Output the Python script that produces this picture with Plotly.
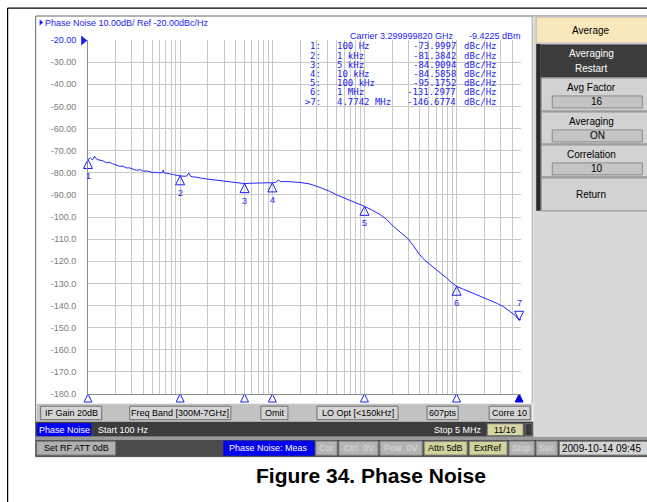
import numpy as np
import plotly.graph_objects as go

# Averaged phase-noise trace: offset frequency (Hz) and level (dBc/Hz)
offset_hz = [100, 106, 112, 118, 125, 134, 145, 158, 172, 185, 200, 221, 240, 260, 283,
             310, 335, 370, 400, 431, 470, 510, 553, 600, 645, 655, 668, 720, 770, 850,
             920, 1000, 1100, 1180, 1240, 1300, 1380, 1500, 1770, 2000, 2490, 3000, 3480,
             4000, 5000, 6000, 7000, 8000, 9000, 10000, 11000, 11600, 12300, 15000, 20000,
             25000, 30000, 36000, 42000, 50000, 64000, 80000, 100000, 120000, 148000,
             175000, 205000, 250000, 297000, 340000, 395000, 450000, 512000, 600000,
             690000, 780000, 880000, 1000000, 1180000, 1390000, 1650000, 1940000,
             2300000, 2770000, 3250000, 3800000, 4300000, 4774200, 5000000]
noise_dbc = [-74.0, -73.3, -74.2, -72.6, -74.0, -74.4, -74.6, -75.5, -75.3, -75.9, -76.5,
             -77.1, -77.0, -77.8, -77.8, -78.5, -78.9, -78.6, -79.3, -79.2, -79.6, -79.9,
             -79.8, -80.1, -79.9, -78.8, -80.0, -80.4, -80.5, -80.9, -81.0, -81.38, -81.6,
             -81.5, -80.1, -81.6, -81.9, -82.0, -82.6, -82.9, -83.4, -83.8, -84.1, -84.4,
             -84.91, -84.7, -84.8, -84.6, -84.5, -84.59, -84.3, -83.2, -84.0, -84.0, -84.4,
             -85.0, -86.0, -87.2, -88.4, -90.0, -91.8, -93.4, -95.18, -96.8, -98.9, -101.2,
             -104.1, -107.2, -109.8, -113.0, -116.9, -119.5, -121.4, -123.6, -125.5,
             -127.6, -129.6, -131.30, -132.6, -133.8, -135.0, -136.3, -137.6, -139.1,
             -140.6, -142.5, -144.4, -146.68, -146.3]

# Marker table
marker_id = ["1", "2", "3", "4", "5", "6", "7"]
marker_hz = [100, 1e3, 5e3, 10e3, 100e3, 1e6, 4.7742e6]
marker_freq_text = ["100 Hz", "1 kHz", "5 kHz", "10 kHz", "100 kHz", "1 MHz", "4.7742 MHz"]
marker_dbc = [-73.9997, -81.3842, -84.9094, -84.5858, -95.1752, -131.2977, -146.6774]
active_marker = 6

# Vertical scale: 10 dB/div from -20 dBc/Hz reference
y_ticks = list(range(-20, -190, -10))
y_ticktext = [f"{v:.2f}" if v > -100 else f"{v:.1f}" for v in y_ticks]

BLUE = "#1c1cf0"
GRID = "#c8c8c8"
UI = "Liberation Sans"
MONO = "DejaVu Sans Mono"

# pixel -> paper conversion (plot area 88.3..520.8 x 40..394.3 px)
PX0, PX1 = 88.3, 520.8
PY0, PY1 = 40.0, 394.3


def px(x):
    return (x - PX0) / (PX1 - PX0)


def py(y):
    return (PY1 - y) / (PY1 - PY0)


shapes = []
annotations = []


def rect(x0, y0, x1, y1, fill=None, line=None, lw=1):
    shapes.append(dict(type="rect", xref="paper", yref="paper",
                       x0=px(x0), x1=px(x1), y0=py(y1), y1=py(y0),
                       fillcolor=fill if fill else "rgba(0,0,0,0)",
                       line=dict(color=line if line else "rgba(0,0,0,0)",
                                 width=lw if line else 0),
                       layer="above"))


def hline(x0, x1, y, color, lw=1):
    shapes.append(dict(type="line", xref="paper", yref="paper",
                       x0=px(x0), x1=px(x1), y0=py(y), y1=py(y),
                       line=dict(color=color, width=lw), layer="above"))


def vline(x, y0, y1, color, lw=1):
    shapes.append(dict(type="line", xref="paper", yref="paper",
                       x0=px(x), x1=px(x), y0=py(y0), y1=py(y1),
                       line=dict(color=color, width=lw), layer="above"))


def text(x, y, s, size=9, color="black", anchor="left", family=UI, bold=False):
    if bold:
        s = f"<b>{s}</b>"
    annotations.append(dict(xref="paper", yref="paper", x=px(x), y=py(y), text=s,
                            xanchor=anchor, yanchor="middle", showarrow=False,
                            borderpad=0,
                            font=dict(size=size, color=color, family=family)))


def button(x0, y0, x1, y1, s, fill, tcolor="black", border="#6e6e6e", size=9):
    rect(x0, y0, x1, y1, fill=fill, line=border)
    if s:
        text((x0 + x1) / 2, (y0 + y1) / 2, s, size=size, color=tcolor, anchor="center")


# document border
hline(8, 660, 8, "black", 1.2)
vline(8, 8, 510, "black", 1.2)

# instrument screen frame
rect(36, 16, 660, 457, line="#6a6a6a")
vline(532, 17, 404, "#a0a0a0")

# right softkey panel
rect(533, 16.5, 660, 437, fill="#d8d8d8")
rect(536, 17, 660, 43, fill="#f8e8bc", line="#b8b8b8")
text(591, 30, "Average", size=10, anchor="center")
rect(536, 44, 540.5, 211, fill="#2a2a2a")
rect(541, 45, 660, 77, fill="#3d3d3d", line="#2a2a2a")
text(591, 54, "Averaging", size=10, color="white", anchor="center")
text(591, 69, "Restart", size=10, color="white", anchor="center")
keys = [(78, 111, "Avg Factor", "16"), (112, 144, "Averaging", "ON"),
        (145, 177, "Correlation", "10")]
for (k0, k1, name, val) in keys:
    rect(541, k0, 660, k1, fill="#d2d2d2", line="#8a8a8a")
    text(591, k0 + 10, name, size=10, anchor="center")
    rect(552, k0 + 18, 642, k0 + 30, fill="#c4c4c4", line="#8a8a8a")
    text(597, k0 + 24, val, size=10, anchor="center")
rect(541, 178, 660, 211, fill="#d2d2d2", line="#8a8a8a")
text(591, 195, "Return", size=10, anchor="center")

# soft button row under the graticule
rect(37, 404, 532, 422, fill="#c2c2c2")
button(41, 406.5, 102, 420, "IF Gain 20dB", "#d4d4d4")
button(130, 406.5, 231, 420, "Freq Band [300M-7GHz]", "#d4d4d4")
button(261, 406.5, 288, 420, "Omit", "#d4d4d4")
button(317, 406.5, 398, 420, "LO Opt [<150kHz]", "#d4d4d4")
button(427, 406.5, 458, 420, "607pts", "#d4d4d4")
button(489, 406.5, 530, 420, "Corre 10", "#d4d4d4")

# measurement status bar
rect(36, 422, 533, 437, fill="#3c3c3c")
button(38, 424, 91, 436, "Phase Noise", "#0000f0", tcolor="white", border="#0000f0")
text(97, 430, "Start 100 Hz", size=9, color="white")
text(483, 430, "Stop 5 MHz", size=9, color="white", anchor="right")
button(487, 424, 523, 436, "11/16", "#d6d6a4", border="#6e6e6e")
rect(525, 424, 532, 436, fill="#3a3a3a", line="#707070")

# system status bar
rect(36, 437, 660, 440, fill="#9a9a9a")
rect(36, 440, 660, 457, fill="#4a4a4a")
button(37, 441.5, 116, 455.5, "Set RF ATT 0dB", "#b0b0b0")
button(224, 441.5, 314, 455.5, "Phase Noise: Meas", "#0000f0", tcolor="white",
       border="#0000f0")
button(316, 441.5, 337, 455.5, "Cor", "#b4b4b4", tcolor="#dcdcdc", border="#8a8a8a")
button(339, 441.5, 378, 455.5, "Ctrl  0V", "#b4b4b4", tcolor="#dcdcdc", border="#8a8a8a")
button(380, 441.5, 422, 455.5, "Pow  0V", "#b4b4b4", tcolor="#dcdcdc", border="#8a8a8a")
button(424, 441.5, 467, 455.5, "Attn 5dB", "#d2d29c")
button(469, 441.5, 507, 455.5, "ExtRef", "#d2d29c")
button(509, 441.5, 534, 455.5, "Stop", "#b4b4b4", tcolor="#dcdcdc", border="#8a8a8a")
button(536, 441.5, 557, 455.5, "Svc", "#b4b4b4", tcolor="#dcdcdc", border="#8a8a8a")
button(559, 441.5, 660, 455.5, "", "#d4d4d4")
text(561, 448.5, "2009-10-14 09:45", size=10)

# trace header and reference level indicator
shapes.append(dict(type="path", xref="paper", yref="paper",
                   path=f"M {px(40)} {py(19.5)} L {px(43.5)} {py(22.5)} L {px(40)} {py(25.5)} Z",
                   fillcolor=BLUE, line=dict(width=0), layer="above"))
text(44, 22.5, "Phase Noise 10.00dB/ Ref -20.00dBc/Hz", size=9, color=BLUE)
shapes.append(dict(type="path", xref="paper", yref="paper",
                   path=f"M {px(81.5)} {py(35.5)} L {px(87.5)} {py(40.5)} L {px(81.5)} {py(45.5)} Z",
                   fillcolor=BLUE, line=dict(width=0), layer="above"))

# carrier line and marker table
text(455, 35.5, "Carrier 3.299999820 GHz", size=9, color=BLUE, anchor="right")
text(522, 35.5, "-9.4225 dBm", size=9, color=BLUE, anchor="right")
for i, (mid, ftxt, val) in enumerate(zip(marker_id, marker_freq_text, marker_dbc)):
    ry = 46.5 + i * 9.2
    prefix = ">" if i == active_marker else ""
    text(322, ry, f"{prefix}{mid}:", size=9, color=BLUE, anchor="right", family=MONO)
    text(336, ry, ftxt, size=9, color=BLUE, family=MONO)
    text(457, ry, f"{val:.4f}", size=9, color=BLUE, anchor="right", family=MONO)
    text(463, ry, "dBc/Hz", size=9, color=BLUE, family=MONO)

# figure caption
text(371, 476, "Figure 34. Phase Noise", size=21, color="black", anchor="center", bold=True)

fig = go.Figure()

fig.add_trace(go.Scatter(x=offset_hz, y=noise_dbc, mode="lines",
                         line=dict(color="#2626ff", width=1), showlegend=False,
                         hoverinfo="skip"))

# marker symbols on the trace
up_idx = [i for i in range(len(marker_hz)) if i != active_marker]
fig.add_trace(go.Scatter(x=[marker_hz[i] for i in up_idx], y=[marker_dbc[i] for i in up_idx],
                         mode="markers", showlegend=False, cliponaxis=False,
                         marker=dict(symbol="arrow-up-open", size=9, color=BLUE,
                                     line=dict(color=BLUE, width=1))))
fig.add_trace(go.Scatter(x=[marker_hz[active_marker]], y=[marker_dbc[active_marker]],
                         mode="markers", showlegend=False, cliponaxis=False,
                         marker=dict(symbol="arrow-down-open", size=9, color=BLUE,
                                     line=dict(color=BLUE, width=1))))
for i, (mid, f, v) in enumerate(zip(marker_id, marker_hz, marker_dbc)):
    annotations.append(dict(x=np.log10(f), y=v, xref="x", yref="y", text=mid,
                            showarrow=False, yshift=(17 if i == active_marker else -17),
                            font=dict(size=9, color=BLUE, family=UI)))

# marker position indicators along the bottom edge
fig.add_trace(go.Scatter(x=[marker_hz[i] for i in up_idx], y=[-180] * len(up_idx),
                         mode="markers", showlegend=False, cliponaxis=False,
                         marker=dict(symbol="arrow-up-open", size=8, color=BLUE,
                                     line=dict(color=BLUE, width=1))))
fig.add_trace(go.Scatter(x=[marker_hz[active_marker]], y=[-180],
                         mode="markers", showlegend=False, cliponaxis=False,
                         marker=dict(symbol="arrow-up", size=8, color="#0000f0",
                                     line=dict(color="#0000f0", width=1))))

y_ticktext[0] = f"<span style='color:{BLUE}'>{y_ticktext[0]}</span>"

fig.update_layout(
    width=647, height=502,
    margin=dict(l=PX0, r=647 - PX1, t=PY0, b=502 - PY1, autoexpand=False),
    paper_bgcolor="white", plot_bgcolor="white",
    shapes=shapes, annotations=annotations,
    xaxis=dict(type="log", range=[2, np.log10(5e6)], dtick="D1",
               showticklabels=False, ticks="", showgrid=True, gridcolor=GRID,
               gridwidth=1, showline=True, linecolor="#8c8c8c", linewidth=1,
               zeroline=False),
    yaxis=dict(range=[-180, -20], tickvals=y_ticks, ticktext=y_ticktext,
               ticks="", ticklabelstandoff=9, showgrid=True, gridcolor=GRID,
               gridwidth=1, showline=True, linecolor="#8c8c8c", linewidth=1,
               zeroline=False,
               tickfont=dict(size=9, color="#7c7c7c", family=UI)),
)

fig.write_html("out.html")
